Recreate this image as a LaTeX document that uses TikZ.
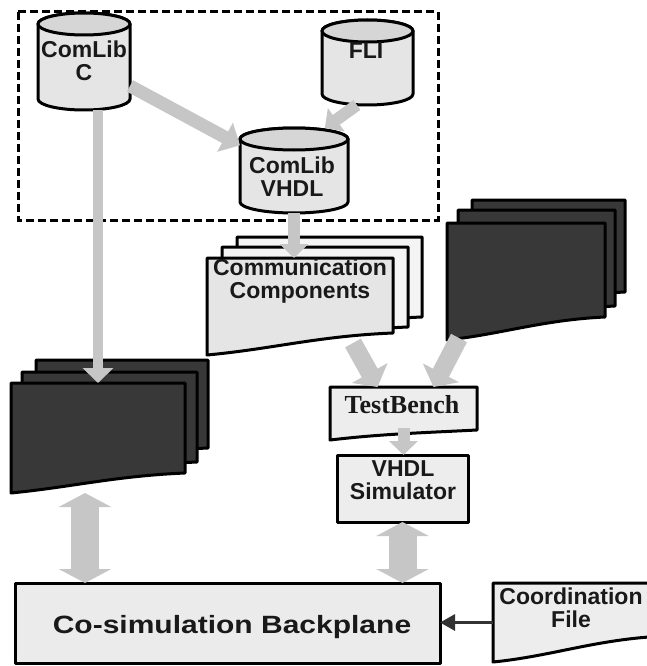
\documentclass[tikz,border=0pt]{standalone}
\usepackage{fontspec}
\setmainfont{Liberation Sans}
\newfontfamily\tbfont{Liberation Serif}
\newfontfamily\widesans[FakeStretch=1.2]{Liberation Sans}
\usetikzlibrary{arrows.meta,calc}

% vertical drum (database) outline: x-left, y-top, x-right, y-bottom
\newcommand\drum[4]{%
  \pgfmathsetmacro\drumrx{(#3-#1)/2}%
  \pgfmathsetmacro\drumcx{(#1+#3)/2}%
  \path[outline,lightfill] (#1,{-#2-11}) -- (#1,{-#4+11})
    arc[start angle=180,end angle=360,x radius=\drumrx,y radius=11]
    -- (#3,{-#2-11})
    arc[start angle=0,end angle=180,x radius=\drumrx,y radius=11] -- cycle;
  \path[outline,fill=gray!32] (\drumcx,{-#2-11}) ellipse[x radius=\drumrx,y radius=11];
}
% document sheet with wavy lower edge: style, x-left, y-top, x-right, y-bottom-left, y-bottom-right
\newcommand\sheet[6]{%
  \path[#1] (#2,-#3) -- (#4,-#3) -- (#4,-#6)
    .. controls ({#2+0.6*(#4-#2)},{-#6-3}) and ({#2+0.35*(#4-#2)},{-#5+6}) .. (#2,-#5) -- cycle;
}

\begin{document}
\begin{tikzpicture}[x=1pt,y=1pt,
  outline/.style={draw=black,line width=3pt,line join=round},
  lightfill/.style={fill=gray!20},
  backfill/.style={fill=gray!9},
  darkfill/.style={fill=black!78},
  hold/.style={inner sep=0pt,outer sep=0pt,draw=none,rectangle},
  lbl/.style={font=\bfseries\fontsize{23}{23}\selectfont,align=center,text=black!90,inner sep=0pt},
  flowmid/.style={draw=gray!45,line width=13pt,-{Triangle[width=32pt,length=17pt]}},
  flowsmall/.style={draw=gray!45,line width=12pt,-{Triangle[width=28pt,length=14pt]}},
  flowwide/.style={draw=gray!45,line width=18pt,-{Triangle[width=40pt,length=16pt]}},
  flowtwo/.style={draw=gray!45,line width=28pt,{Triangle[width=52pt,length=14pt]}-{Triangle[width=52pt,length=14pt]}},
  feed/.style={draw=black!80,line width=3pt,-{Triangle[width=16pt,length=15pt]}}
]
\clip (0,0) rectangle (647,-666);
\fill[white] (0,0) rectangle (647,-666);

% library group frame
\draw[black,line width=3pt,dash pattern=on 8pt off 4pt] (18,-12) rectangle (438,-220);

% drums
\drum{38}{13}{130}{110}
\drum{322}{20}{413}{105}
\drum{240}{128}{348}{213}
\node[hold,minimum width=92pt,minimum height=98pt] (clc) at (84,-61.5) {};
\node[hold,minimum width=91pt,minimum height=85pt] (fli) at (367.5,-62.5) {};
\node[hold,minimum width=108pt,minimum height=85pt] (clv) at (294,-170.5) {};
\node[lbl] (clc-t) at (84,-61) {ComLib\\C};
\node[lbl] (fli-t) at (366,-51) {FLI};
\node[lbl] (clv-t) at (292,-177) {ComLib\\VHDL};

\draw[flowmid] (clc.-28) -- (clv.155);
\draw[flowsmall] (fli.-104) -- (clv.54);

% communication components stack
\sheet{outline,backfill}{237}{237}{422}{337}{317}
\sheet{outline,backfill}{222}{247}{408}{346}{327}
\sheet{outline,lightfill}{207}{258}{393}{355}{333}
\node[hold,minimum width=186pt,minimum height=97pt] (cc) at (300,-306.5) {};
\node[lbl] (cc-t) at (300,-281) {Communication\\Components};
\draw[flowsmall] (clv.south) -- (clv.south |- cc.north);

% right stack of dark sheets
\sheet{outline,darkfill}{472}{200}{625}{312}{292}
\sheet{outline,darkfill}{458}{210}{615}{326}{306}
\sheet{outline,darkfill}{447}{223}{605}{340}{317}
\node[hold,minimum width=158pt,minimum height=117pt] (rdoc) at (526,-281.5) {};

% left stack of dark sheets
\sheet{outline,darkfill}{36}{360}{208}{470}{448}
\sheet{outline,darkfill}{22}{372}{197}{482}{462}
\sheet{outline,darkfill}{11}{383}{185}{493}{473}
\node[hold,minimum width=174pt,minimum height=110pt] (ldoc) at (98,-438) {};
\draw[draw=gray!45,line width=10pt,-{Triangle[width=30pt,length=15pt]}]
  (clc.south -| ldoc.north) -- (ldoc.north);

% test bench
\sheet{outline,fill=gray!14}{330}{387}{477}{440}{430}
\node[hold,minimum width=147pt,minimum height=53pt] (tb) at (403.5,-413.5) {};
\node[font=\tbfont\bfseries\fontsize{26}{26}\selectfont,text=black!90,inner sep=0pt] (tb-t) at (402,-405) {TestBench};
\draw[flowwide] ([xshift=-40pt,yshift=12pt]cc.south east) -- ([xshift=-26pt]tb.north);
\draw[flowwide] ([xshift=12pt,yshift=2pt]rdoc.south west) -- ([xshift=30pt]tb.north);

% simulator
\node[hold,outline,fill=gray!14,minimum width=131pt,minimum height=67pt] (vs) at (402.5,-488.5) {};
\node[lbl] (vs-t) at (403,-480) {VHDL\\Simulator};
\draw[flowsmall] ([yshift=12pt]tb.south) -- (tb.south |- vs.north);

% backplane
\node[hold,outline,fill=gray!16,minimum width=425pt,minimum height=80pt] (bp) at (227.5,-623) {};
\node[font=\widesans\bfseries\fontsize{25}{25}\selectfont,text=black!90,inner sep=0pt] (bp-t) at (232,-627) {Co-simulation Backplane};
\draw[flowtwo] ([xshift=-13pt]ldoc.south) -- ([xshift=-13pt]ldoc.south |- bp.north);
\draw[flowtwo] (vs.south) -- (vs.south |- bp.north);

% coordination file
\sheet{outline,fill=gray!14}{493}{583}{665}{662}{636}
\node[hold,minimum width=172pt,minimum height=79pt] (cf) at (579,-622.5) {};
\node[lbl] (cf-t) at (571,-608) {Coordination\\File};
\draw[feed] (cf.west) -- (cf.west -| bp.east);
\end{tikzpicture}
\end{document}
